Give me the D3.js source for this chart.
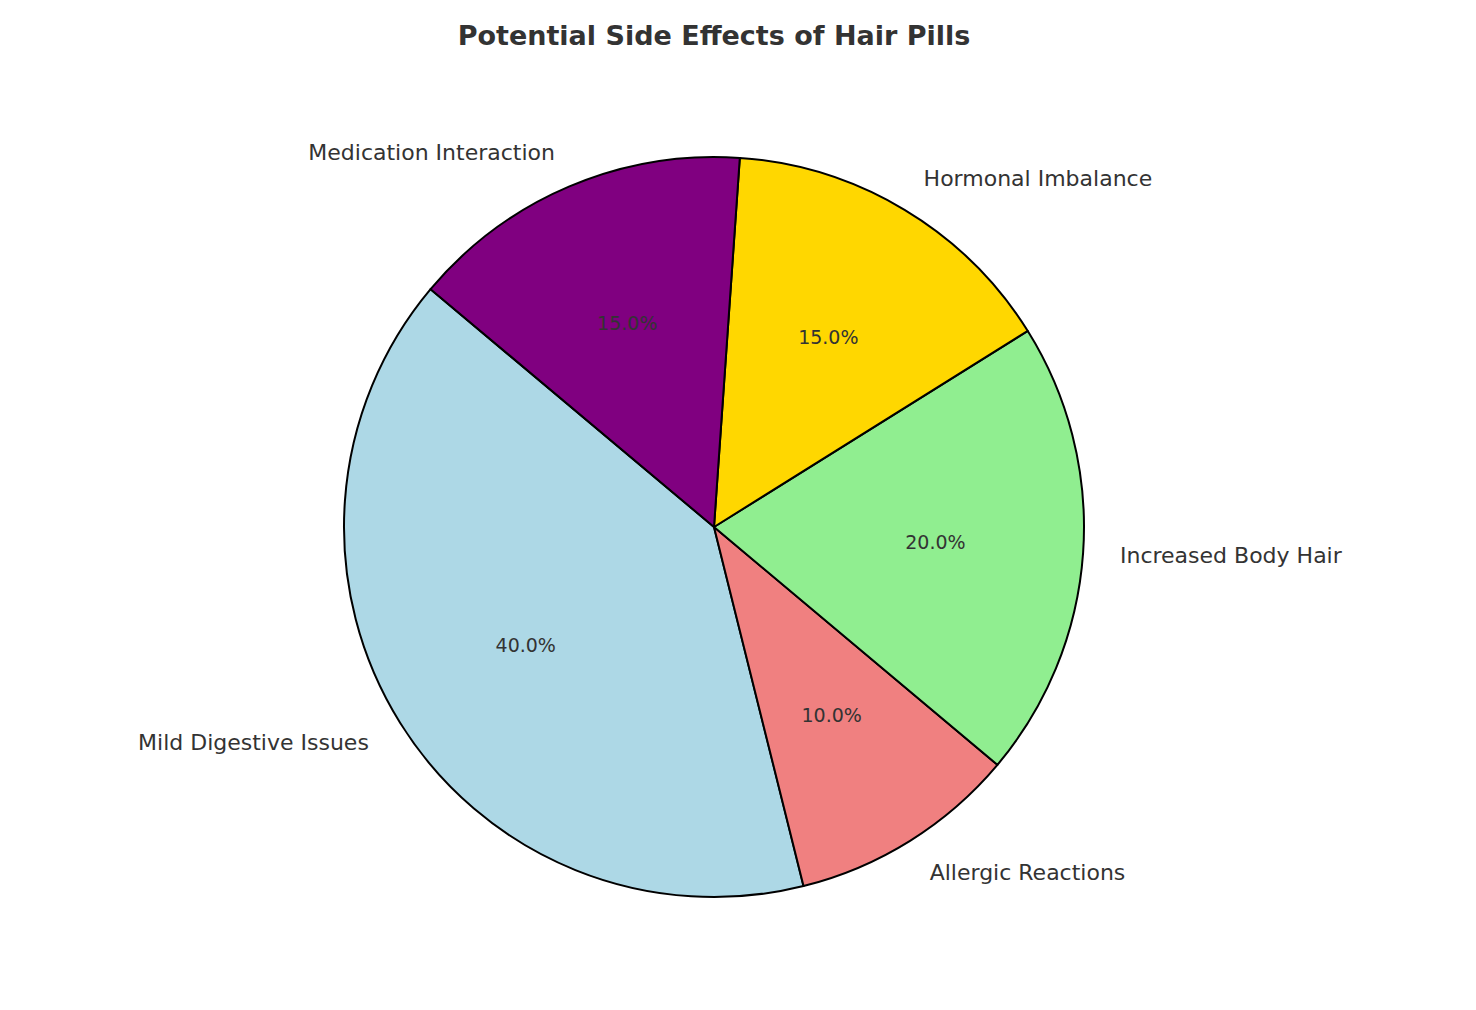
<!DOCTYPE html>
<html><head><meta charset="utf-8">
<script src="https://cdn.jsdelivr.net/npm/d3@7"></script>
<style>body{margin:0;background:#fff}text{font-family:"DejaVu Sans",sans-serif;fill:#333}</style>
</head><body><svg id="c" width="1476" height="1010"></svg>
<script>
const categories=["Mild Digestive Issues","Allergic Reactions","Increased Body Hair","Hormonal Imbalance","Medication Interaction"];
const values=[40,10,20,15,15];
const colors=["lightblue","lightcoral","lightgreen","gold","purple"];
const svg=d3.select("#c"), cx=714, cy=527, r=370;
svg.append("text").attr("x",714).attr("y",37).attr("text-anchor","middle").attr("dominant-baseline","middle")
  .style("font-size","27px").style("font-weight","bold").text("Potential Side Effects of Hair Pills");
const s0=(90-140)*Math.PI/180;
const pie=d3.pie().sort(null).startAngle(s0).endAngle(s0-2*Math.PI);
const arcs=pie(values);
const g=svg.append("g").attr("transform",`translate(${cx},${cy})`);
const arc=d3.arc().innerRadius(0).outerRadius(r);
g.selectAll("path").data(arcs).join("path").attr("d",arc).attr("fill",(d,i)=>colors[i])
  .attr("stroke","#000").attr("stroke-width",2).attr("stroke-linejoin","round");
const total=d3.sum(values);
arcs.forEach((d,i)=>{
  const a=(d.startAngle+d.endAngle)/2;
  const x=Math.sin(a), y=-Math.cos(a);
  g.append("text").attr("x",x*r*1.1).attr("y",y*r*1.1).attr("text-anchor",x>0?"start":"end")
    .attr("dominant-baseline","central").style("font-size","22px").text(categories[i]);
  g.append("text").attr("x",x*r*0.6).attr("y",y*r*0.6).attr("text-anchor","middle")
    .attr("dominant-baseline","central").style("font-size","19px").text((values[i]/total*100).toFixed(1)+"%");
});
</script></body></html>
